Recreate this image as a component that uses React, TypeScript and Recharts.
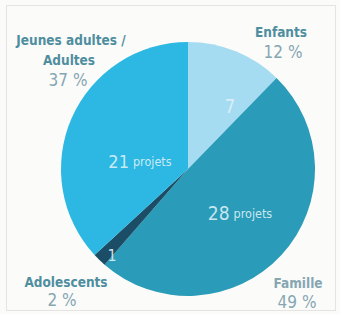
import { PieChart, Pie, Cell } from "recharts";

const categories = ["Enfants", "Famille", "Adolescents", "Jeunes adultes / Adultes"];
const projects = [7, 28, 1, 21];
const percents = ["12 %", "49 %", "2 %", "37 %"];
const COLORS = ["#a6dcf1", "#2a9bb8", "#1b4e66", "#2cb8e2"];

const pieData = categories.map((c, i) => ({ name: c, value: projects[i], pct: percents[i] }));

// offsets of the in-slice labels from the pie centre
const INNER = [
  { dx: 42, dy: -63, big: 19, unit: false },
  { dx: 52, dy: 44, big: 19, unit: true },
  { dx: -76, dy: 86, big: 16, unit: false },
  { dx: -48, dy: -8, big: 18, unit: true },
];

const NAME = "#4f8e9e";
const PCT = "#86a6b2";
const FONT = "'DejaVu Sans Condensed', 'DejaVu Sans', sans-serif";

function InnerLabel(props: any) {
  const { cx, cy, index, value } = props;
  const o = INNER[index];
  return (
    <text x={cx + o.dx} y={cy + o.dy} textAnchor="middle" dominantBaseline="central"
      fill="#dff1f7" fillOpacity={0.9} fontFamily={FONT}>
      <tspan fontSize={o.big}>{value}</tspan>
      {o.unit && <tspan fontSize={12.5} dx={4}>projets</tspan>}
    </text>
  );
}

export default function App() {
  return (
    <div style={{ position: "absolute", left: 0, top: 0, width: 340, height: 314, background: "#fbfbfa" }}>
      <div style={{ position: "absolute", left: 6, top: 5, width: 330, height: 306, border: "1px solid #e6e4e2", boxSizing: "border-box" }} />
      <PieChart width={340} height={314} style={{ position: "absolute", left: 0, top: 0 }}>
        <Pie data={pieData} dataKey="value" nameKey="name" cx={183} cy={164} outerRadius={127}
          startAngle={90} endAngle={-270} stroke="none" label={InnerLabel} labelLine={false}
          isAnimationActive={false}>
          {pieData.map((_, i) => <Cell key={i} fill={COLORS[i]} />)}
        </Pie>
        <g fontFamily={FONT} fontWeight="bold" textAnchor="middle">
          <text x={71} y={45} fontSize={13.5} fill={NAME}>Jeunes adultes /</text>
          <text x={69} y={65} fontSize={13.5} fill={NAME}>Adultes</text>
          <text x={68} y={86} fontSize={17} fontWeight="normal" fill={PCT}>{percents[3]}</text>
          <text x={281} y={37} fontSize={13.5} fill={NAME}>{categories[0]}</text>
          <text x={283} y={58} fontSize={17} fontWeight="normal" fill={PCT}>{percents[0]}</text>
          <text x={66} y={287} fontSize={13.5} fill={NAME}>{categories[2]}</text>
          <text x={62} y={306} fontSize={17} fontWeight="normal" fill={PCT}>{percents[2]}</text>
          <text x={298} y={288} fontSize={13.5} fill={PCT}>{categories[1]}</text>
          <text x={297} y={308} fontSize={17} fontWeight="normal" fill={PCT}>{percents[1]}</text>
        </g>
      </PieChart>
    </div>
  );
}
